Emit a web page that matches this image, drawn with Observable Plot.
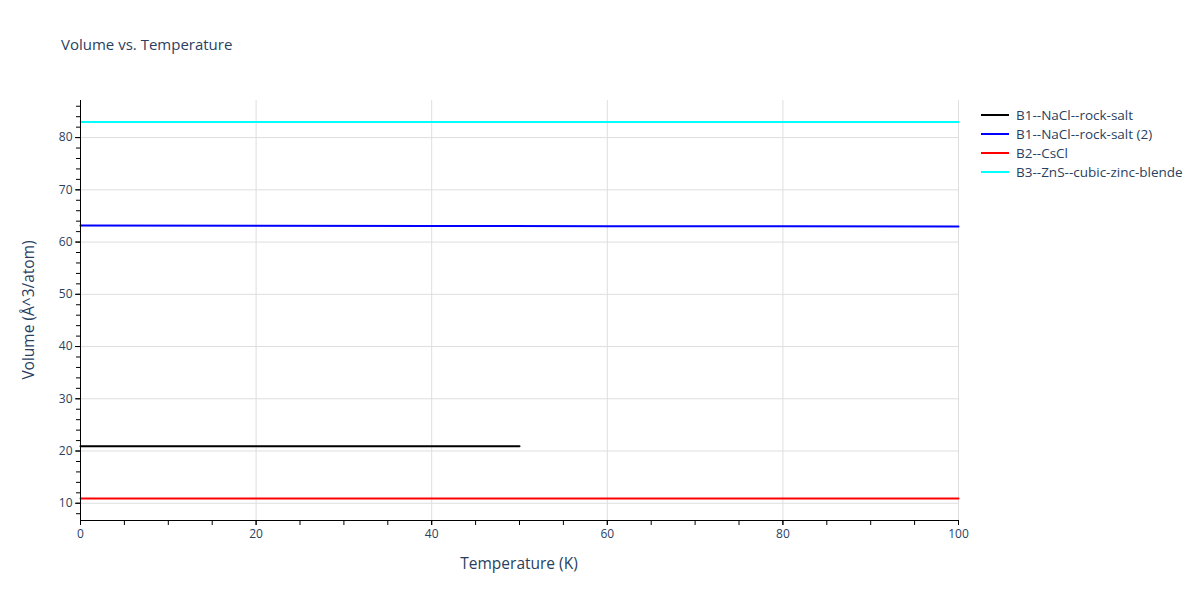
<!DOCTYPE html>
<html>
<head>
<meta charset="utf-8">
<script src="https://cdn.jsdelivr.net/npm/d3@7"></script>
<script src="https://cdn.jsdelivr.net/npm/@observablehq/plot@0.6"></script>
<style>
  body { margin: 0; background: #fff; font-family: "Open Sans", "Noto Sans", sans-serif; }
  #wrap { position: relative; width: 1200px; height: 600px; }
  #title { position: absolute; left: 61px; top: 34px; font-size: 15px; color: #2a3f5f; }
  #legend { position: absolute; left: 981px; top: 105px; font-size: 13.5px; color: #2a3f5f; }
  .li { display: flex; align-items: center; height: 19px; }
  .sw { width: 28px; height: 2px; margin-right: 7px; }
  .axt { position: absolute; font-size: 15.5px; color: #2a3f5f; white-space: nowrap; }
  #xt { left: 519px; top: 563px; transform: translate(-50%, -50%); }
  #yt { left: 28px; top: 310px; transform: translate(-50%, -50%) rotate(-90deg); }
</style>
</head>
<body>
<div id="wrap">
  <div id="chart"></div>
  <div id="title">Volume vs. Temperature</div>
  <div id="legend"></div>
  <div id="xt" class="axt">Temperature (K)</div>
  <div id="yt" class="axt">Volume (Å^3/atom)</div>
</div>
<script>
const seriesNames = ["B1--NaCl--rock-salt", "B1--NaCl--rock-salt (2)", "B2--CsCl", "B3--ZnS--cubic-zinc-blende"];
const seriesColors = ["#000000", "#0000ff", "#ff0000", "#00ffff"];

const tempRock = [0, 10, 20, 30, 40, 50];
const volRock = [20.9, 20.9, 20.9, 20.9, 20.9, 20.9];

const tempRock2 = [0, 20, 40, 60, 80, 100];
const volRock2 = [63.17, 63.13, 63.09, 63.05, 63.01, 62.96];

const tempCsCl = [0, 20, 40, 60, 80, 100];
const volCsCl = [10.9, 10.9, 10.9, 10.9, 10.9, 10.9];

const tempZnS = [0, 20, 40, 60, 80, 100];
const volZnS = [83.0, 83.0, 83.0, 83.0, 83.0, 83.0];

const xTicks = [0, 20, 40, 60, 80, 100];
const yTicks = [10, 20, 30, 40, 50, 60, 70, 80];

const allT = [tempRock, tempRock2, tempCsCl, tempZnS];
const allV = [volRock, volRock2, volCsCl, volZnS];
const data = [];
allT.forEach((ts, i) => ts.forEach((t, j) => data.push({series: seriesNames[i], t, v: allV[i][j]})));

const textColor = "#2a3f5f";
const plot = Plot.plot({
  width: 1200,
  height: 600,
  marginLeft: 80,
  marginRight: 242,
  marginTop: 100,
  marginBottom: 80,
  style: { fontFamily: "'Open Sans', 'Noto Sans', sans-serif", fontSize: "12px", color: textColor, background: "#fff" },
  x: { domain: [0, 100] },
  y: { domain: [6.7, 87.1] },
  color: { domain: seriesNames, range: seriesColors },
  marks: [
    Plot.gridX(xTicks, { stroke: "#dedede", strokeOpacity: 1, strokeWidth: 1 }),
    Plot.gridY(yTicks, { stroke: "#dedede", strokeOpacity: 1, strokeWidth: 1 }),
    Plot.axisX(d3.range(0, 101, 5), { tickSize: 5, text: null, stroke: "#000", strokeOpacity: 1, label: null }),
    Plot.axisY(d3.range(8, 88, 2), { tickSize: 4, text: null, stroke: "#000", strokeOpacity: 1, label: null }),
    Plot.axisX(xTicks, { tickSize: 5, tickPadding: 4, fill: textColor, stroke: "#000", strokeOpacity: 1, fontSize: 12, label: null }),
    Plot.axisY(yTicks, { tickSize: 5, tickPadding: 3, fill: textColor, stroke: "#000", strokeOpacity: 1, fontSize: 12, label: null }),
    Plot.line(data, { x: "t", y: "v", z: "series", stroke: "series", strokeWidth: 2 }),
    Plot.ruleX([0], { stroke: "#000", strokeWidth: 1 }),
    Plot.ruleY([6.7], { stroke: "#000", strokeWidth: 1 })
  ]
});
document.getElementById("chart").appendChild(plot);

const legend = document.getElementById("legend");
seriesNames.forEach((n, i) => {
  const row = document.createElement("div");
  row.className = "li";
  const sw = document.createElement("div");
  sw.className = "sw";
  sw.style.background = seriesColors[i];
  const tx = document.createElement("span");
  tx.textContent = n;
  row.appendChild(sw);
  row.appendChild(tx);
  legend.appendChild(row);
});
</script>
</body>
</html>
